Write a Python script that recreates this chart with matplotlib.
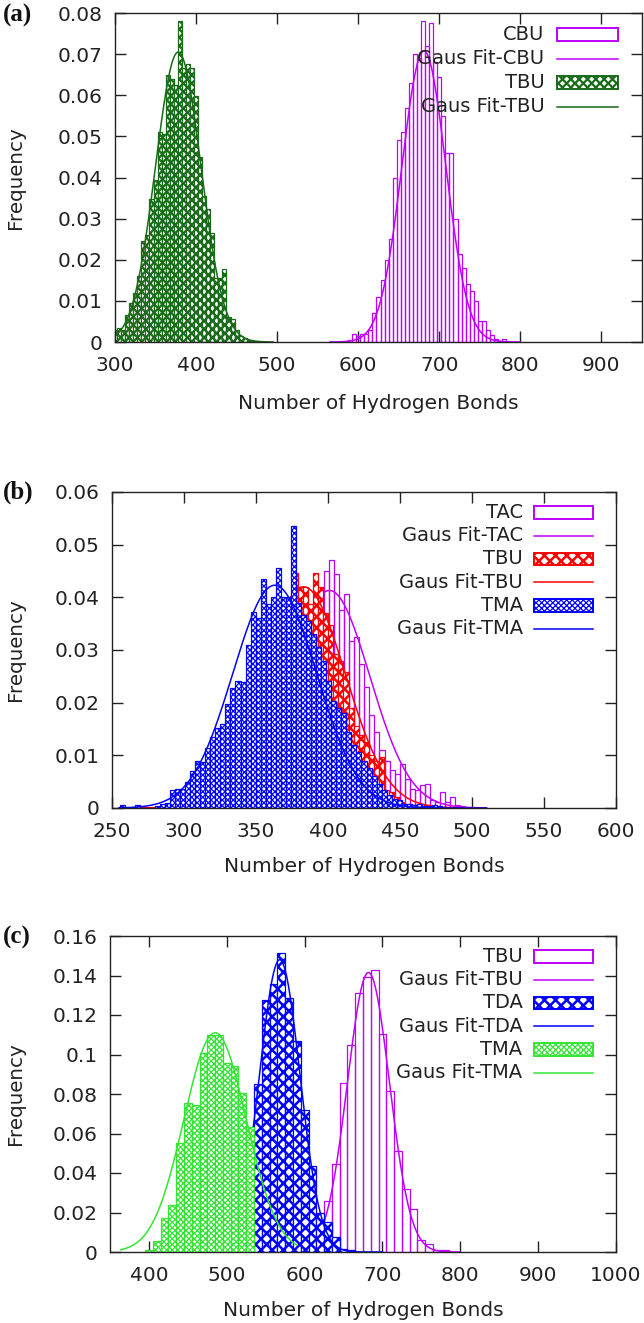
import numpy as np
import matplotlib
matplotlib.use('Agg')
import matplotlib.pyplot as plt
from matplotlib.patches import Rectangle

plt.rcParams['font.family'] = ['DejaVu Sans']
plt.rcParams['hatch.linewidth'] = 1.0

# --- data (frequenties per bin) ---

# (a) TBU (groen) en CBU (paars), binbreedte 5
a_tbu_start, a_tbu_w = 300, 5
a_tbu = [0.0030, 0.0035, 0.0030, 0.0066, 0.0096, 0.0120, 0.0160, 0.0245, 0.0260,
         0.0348, 0.0395, 0.0510, 0.0505, 0.0650, 0.0640, 0.0625, 0.0780, 0.0666,
         0.0676, 0.0667, 0.0597, 0.0450, 0.0354, 0.0324, 0.0265, 0.0155, 0.0155,
         0.0177, 0.0062, 0.0055, 0.0030, 0.0015, 0.0010, 0.0005, 0.0003, 0.0002]
a_cbu_start, a_cbu_w = 585, 5
a_cbu = [0.0003, 0.0005, 0.0020, 0.0015, 0.0020, 0.0020, 0.0030, 0.0070, 0.0110,
         0.0150, 0.0200, 0.0250, 0.0400, 0.0490, 0.0510, 0.0570, 0.0630, 0.0700,
         0.0690, 0.0780, 0.0720, 0.0775, 0.0680, 0.0645, 0.0550, 0.0460, 0.0460,
         0.0300, 0.0215, 0.0180, 0.0140, 0.0125, 0.0100, 0.0050, 0.0050, 0.0030,
         0.0017, 0.0008, 0.0003, 0.0008]

# (b) TAC (paars), TBU (rood), TMA (blauw), binbreedte 3.5
b_tac_start, b_tac_w = 399, 3.5
b_tac = [0.0450, 0.0470, 0.0445, 0.0375, 0.0407, 0.0318, 0.0325, 0.0274, 0.0230,
         0.0176, 0.0144, 0.0110, 0.0090, 0.0072, 0.0065, 0.0084, 0.0056, 0.0037,
         0.0034, 0.0043, 0.0046, 0.0015, 0.0011, 0.0030, 0.0011, 0.0020, 0.0005,
         0.0004]
b_tbu_start, b_tbu_w = 377.5, 3.5
b_tbu = [0.0446, 0.0420, 0.0420, 0.0388, 0.0446, 0.0420, 0.0370, 0.0347, 0.0293,
         0.0280, 0.0258, 0.0190, 0.0155, 0.0138, 0.0125, 0.0100, 0.0090, 0.0097,
         0.0034, 0.0030, 0.0020, 0.0011, 0.0008, 0.0005, 0.0005, 0.0003, 0.0005]
b_tma_start, b_tma_w = 257, 3.5
b_tma = [0.0005, 0.0, 0.0, 0.0005, 0.0, 0.0, 0.0, 0.0003, 0.0008, 0.0010,
         0.0034, 0.0037, 0.0037, 0.0050, 0.0070, 0.0090, 0.0087, 0.0113, 0.0135,
         0.0152, 0.0159, 0.0198, 0.0227, 0.0242, 0.0240, 0.0310, 0.0373, 0.0360,
         0.0435, 0.0388, 0.0400, 0.0456, 0.0400, 0.0400, 0.0535, 0.0390, 0.0366,
         0.0356, 0.0330, 0.0305, 0.0280, 0.0242, 0.0204, 0.0190, 0.0180, 0.0144,
         0.0120, 0.0106, 0.0090, 0.0075, 0.0060, 0.0046, 0.0034, 0.0024, 0.0018,
         0.0015, 0.0008, 0.0008, 0.0006, 0.0008, 0.0003, 0.0004, 0.0005, 0.0003]

# (c) TBU (paars), TDA (blauw), TMA (groen), binbreedte 10
c_tbu_start, c_tbu_w = 630, 10
c_tbu = [0.0257, 0.0447, 0.0856, 0.1046, 0.1310, 0.1390, 0.1426, 0.1105, 0.0815,
         0.0511, 0.0320, 0.0220, 0.0062, 0.0042, 0.0012, 0.0012]
c_tda_start, c_tda_w = 540, 10
c_tda = [0.0850, 0.1274, 0.1355, 0.1514, 0.1288, 0.1068, 0.0720, 0.0434, 0.0200,
         0.0152, 0.0076, 0.0017, 0.0012]
c_tma_start, c_tma_w = 400, 10
c_tma = [0.0008, 0.0056, 0.0174, 0.0240, 0.0554, 0.0756, 0.0743, 0.1010, 0.1100,
         0.1097, 0.0957, 0.0940, 0.0807, 0.0633]

# Gauss fits: amplitude, gemiddelde, sigma, x-bereik
fit_a_cbu = (0.0708, 681, 27, 565, 800)
fit_a_tbu = (0.0705, 378, 28, 300, 495)
fit_b_tac = (0.0413, 401, 28, 255, 510)
fit_b_tbu = (0.0420, 383, 29, 255, 510)
fit_b_tma = (0.0423, 363, 29, 255, 510)
fit_c_tbu = (0.1415, 682, 27, 585, 800)
fit_c_tda = (0.1480, 568, 26, 480, 700)
fit_c_tma = (0.1110, 485, 40, 364, 590)

# kleuren
paars = '#c000ff'
donkergroen = '#1a6b1a'
rood = '#ff0000'
blauw = '#0000ff'
lichtgroen = '#33e633'
tekst = '#222222'


def histogram(ax, start, width, freq, color, hatch=None, hlw=1.0, z=2):
    x = start + width * np.arange(len(freq))
    bars = ax.bar(x, freq, width=width, facecolor='white' if hatch else 'none',
                  edgecolor=color, hatch=hatch, linewidth=0.9, zorder=z)
    for b in bars:
        if hasattr(b, 'set_hatch_linewidth'):
            b.set_hatch_linewidth(hlw)


def gaussfit(ax, par, color, z):
    amp, mu, sig, x0, x1 = par
    x = np.linspace(x0, x1, 300)
    ax.plot(x, amp * np.exp(-0.5 * ((x - mu) / sig) ** 2), color=color, lw=1.1, zorder=z)


def legende(ax, entries):
    for i, (label, color, hatch, hlw) in enumerate(entries):
        y = 0.935 - i * 0.0735
        ax.text(0.815, y, label, transform=ax.transAxes, ha='right', va='center',
                fontsize=14, color=tekst, zorder=20)
        if hatch == 'line':
            ax.plot([0.838, 0.955], [y, y], transform=ax.transAxes, color=color, lw=1.1, zorder=20)
        else:
            r = Rectangle((0.838, y - 0.02), 0.117, 0.04, transform=ax.transAxes,
                          facecolor='white' if hatch else 'none', edgecolor=color,
                          hatch=hatch, lw=1.4, zorder=20)
            if hasattr(r, 'set_hatch_linewidth'):
                r.set_hatch_linewidth(hlw)
            ax.add_patch(r)


def assen(ax, xlim, xticks, ylim, yticks, yticklabels, xlab_off, ylab_x):
    ax.set_xlim(*xlim)
    ax.set_ylim(*ylim)
    ax.set_xticks(xticks)
    ax.set_xticklabels([str(t) for t in xticks])
    ax.set_yticks(yticks)
    ax.set_yticklabels(yticklabels)
    ax.tick_params(direction='in', length=8, width=1, top=True, right=True,
                   labelsize=14.5, labelcolor=tekst, color='#222222')
    ax.tick_params(axis='x', pad=10)
    ax.tick_params(axis='y', pad=9)
    for s in ax.spines.values():
        s.set_linewidth(1.0)
        s.set_color('#222222')
        s.set_zorder(30)
    ax.set_xlabel('Number of Hydrogen Bonds', fontsize=14.5, color=tekst)
    ax.xaxis.set_label_coords(0.5, xlab_off)
    ax.xaxis.label.set_va('center')
    ax.set_ylabel('Frequency', fontsize=14.3, color=tekst)
    ax.yaxis.set_label_coords(ylab_x, 0.5)
    ax.yaxis.label.set_va('center')


fig = plt.figure(figsize=(6.44, 13.23), dpi=100)
W, H = 644, 1323

# ---- (a) ----  (volgorde zoals in de legenda: latere reeks ligt bovenop)
ax1 = fig.add_axes([115 / W, 1 - 342 / H, 527 / W, 329 / H])
histogram(ax1, a_cbu_start, a_cbu_w, a_cbu, paars, z=2)
gaussfit(ax1, fit_a_cbu, paars, 3)
histogram(ax1, a_tbu_start, a_tbu_w, a_tbu, donkergroen, hatch='xxxx', hlw=1.6, z=4)
gaussfit(ax1, fit_a_tbu, donkergroen, 5)
legende(ax1, [('CBU', paars, None, 1), ('Gaus Fit-CBU', paars, 'line', 1),
              ('TBU', donkergroen, 'xxxx', 1.6), ('Gaus Fit-TBU', donkergroen, 'line', 1)])
assen(ax1, (300, 950), list(range(300, 901, 100)), (0, 0.08),
      np.arange(0, 0.081, 0.01), ['0', '0.01', '0.02', '0.03', '0.04', '0.05', '0.06', '0.07', '0.08'],
      -61 / 329, (16 - 115) / 527)

# ---- (b) ----
ax2 = fig.add_axes([112 / W, 1 - 808 / H, 504 / W, 316 / H])
histogram(ax2, b_tac_start, b_tac_w, b_tac, paars, z=2)
gaussfit(ax2, fit_b_tac, paars, 3)
histogram(ax2, b_tbu_start, b_tbu_w, b_tbu, rood, hatch='xxx', hlw=1.8, z=4)
gaussfit(ax2, fit_b_tbu, rood, 5)
histogram(ax2, b_tma_start, b_tma_w, b_tma, blauw, hatch='xxxxxx', hlw=0.9, z=6)
gaussfit(ax2, fit_b_tma, blauw, 7)
legende(ax2, [('TAC', paars, None, 1), ('Gaus Fit-TAC', paars, 'line', 1),
              ('TBU', rood, 'xxx', 1.8), ('Gaus Fit-TBU', rood, 'line', 1),
              ('TMA', blauw, 'xxxxxx', 0.9), ('Gaus Fit-TMA', blauw, 'line', 1)])
assen(ax2, (250, 600), list(range(250, 601, 50)), (0, 0.06),
      np.arange(0, 0.061, 0.01), ['0', '0.01', '0.02', '0.03', '0.04', '0.05', '0.06'],
      -59 / 316, (16 - 112) / 504)

# ---- (c) ----
ax3 = fig.add_axes([110 / W, 1 - 1252 / H, 506 / W, 316 / H])
histogram(ax3, c_tbu_start, c_tbu_w, c_tbu, paars, z=2)
gaussfit(ax3, fit_c_tbu, paars, 3)
histogram(ax3, c_tda_start, c_tda_w, c_tda, blauw, hatch='xxx', hlw=1.8, z=4)
gaussfit(ax3, fit_c_tda, blauw, 5)
histogram(ax3, c_tma_start, c_tma_w, c_tma, lichtgroen, hatch='xxxxxx', hlw=0.9, z=6)
gaussfit(ax3, fit_c_tma, lichtgroen, 7)
legende(ax3, [('TBU', paars, None, 1), ('Gaus Fit-TBU', paars, 'line', 1),
              ('TDA', blauw, 'xxx', 1.8), ('Gaus Fit-TDA', blauw, 'line', 1),
              ('TMA', lichtgroen, 'xxxxxx', 0.9), ('Gaus Fit-TMA', lichtgroen, 'line', 1)])
assen(ax3, (350, 1000), list(range(400, 1001, 100)), (0, 0.16),
      np.arange(0, 0.161, 0.02), ['0', '0.02', '0.04', '0.06', '0.08', '0.1', '0.12', '0.14', '0.16'],
      -58 / 316, (16 - 110) / 506)

# paneellabels
for lab, ypix in [('(a)', 15), ('(b)', 492), ('(c)', 937)]:
    fig.text(3 / W, 1 - ypix / H, lab, fontsize=18, fontweight='bold',
             family=['Liberation Serif', 'DejaVu Serif'], va='center', ha='left', color='#111111')

fig.savefig('out.png', dpi=100)
